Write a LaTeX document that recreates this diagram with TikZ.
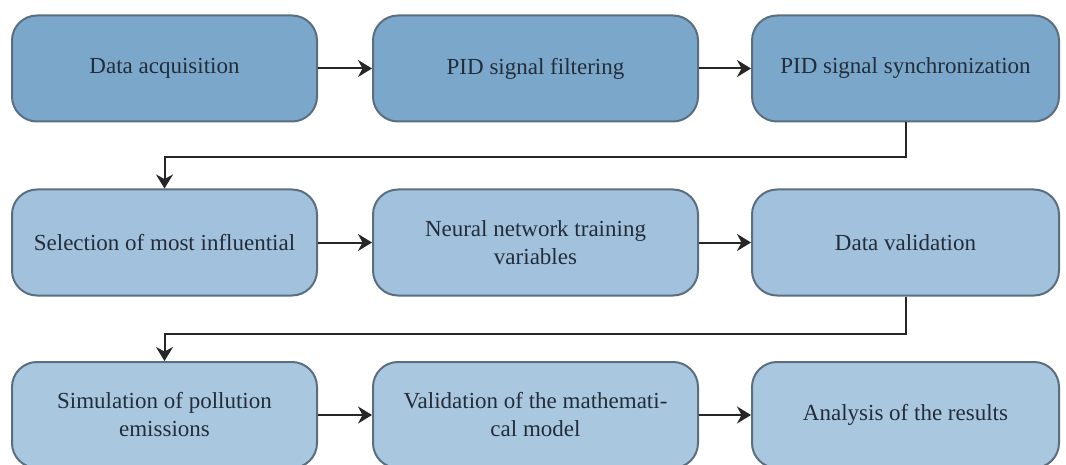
\documentclass[tikz,border=0pt]{standalone}
\usepackage{fontspec}
\setmainfont{Liberation Serif}
\usetikzlibrary{arrows.meta}

\definecolor{rowa}{HTML}{7BA7CB}
\definecolor{rowb}{HTML}{A2C1DC}
\definecolor{rowc}{HTML}{AAC7E0}
\definecolor{boxline}{HTML}{5B6E7F}
\definecolor{boxtext}{HTML}{232D3A}

\tikzset{
  stage/.style={rectangle, rounded corners=12.5pt, draw=boxline, line width=1pt,
    text=boxtext, align=center, font=\fontsize{11.5}{14}\selectfont, minimum height=53pt},
  flow/.style={draw=black!85, line width=1pt, -{Stealth[length=7pt,width=8.5pt]}}
}

\begin{document}
\begin{tikzpicture}[x=0.5pt, y=-0.5pt]
    \useasboundingbox (0,0) rectangle (1066,465);

    % first row
    \node[stage, fill=rowa, minimum width=152.5pt] (acq)  at (164.5,68.5) {Data acquisition};
    \node[stage, fill=rowa, minimum width=162.5pt] (filt) at (535.5,68.5) {PID signal filtering};
    \node[stage, fill=rowa, minimum width=153.5pt] (sync) at (905.5,68.5) {PID signal synchronization};

    % second row
    \node[stage, fill=rowb, minimum width=152.5pt] (sel)   at (164.5,242.5) {Selection of most influential};
    \node[stage, fill=rowb, minimum width=162.5pt] (train) at (535.5,242.5) {Neural network training\\variables};
    \node[stage, fill=rowb, minimum width=153.5pt] (valid) at (905.5,242.5) {Data validation};

    % third row
    \node[stage, fill=rowc, minimum width=152.5pt] (sim)   at (164.5,415) {Simulation of pollution\\emissions};
    \node[stage, fill=rowc, minimum width=162.5pt] (model) at (535.5,415) {Validation of the mathemati-\\cal model};
    \node[stage, fill=rowc, minimum width=153.5pt] (res)   at (905.5,415) {Analysis of the results};

    \draw[flow] (acq) -- (filt);
    \draw[flow] (filt) -- (sync);
    \draw[flow] (sync.south) -- ++(0,35) -| (sel.north);
    \draw[flow] (sel) -- (train);
    \draw[flow] (train) -- (valid);
    \draw[flow] (valid.south) -- ++(0,37) -| (sim.north);
    \draw[flow] (sim) -- (model);
    \draw[flow] (model) -- (res);
\end{tikzpicture}
\end{document}
